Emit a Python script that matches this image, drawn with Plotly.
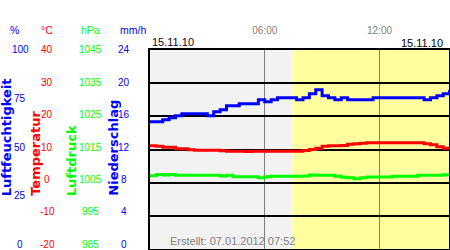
import pandas as pd
import plotly.graph_objects as go

# ---------------- data ----------------
date_str = "15.11.10"
created = "Erstellt: 07.01.2012 07:52"
t_start = "2010-11-15 00:00"
t_end = "2010-11-15 15:38"
daylight_start = "2010-11-15 07:27"
times = pd.date_range("2010-11-15 00:00", periods=48, freq="20min")

humidity = [64, 64, 65, 66, 67, 68, 68, 68, 68, 67, 69, 70,
            72, 72, 73, 73, 73, 75, 74, 75, 76, 76, 76, 75,
            76, 78, 80, 77, 76, 75, 76, 75, 75, 75, 75, 76,
            76, 76, 76, 76, 76, 76, 76, 75, 76, 77, 78, 80]
temperature = [11.1, 11.0, 10.7, 10.7, 10.2, 10.2, 9.9, 9.8, 9.8, 9.8, 9.8, 9.6,
               9.5, 9.5, 9.5, 9.4, 9.5, 9.5, 9.5, 9.5, 9.5, 9.5, 9.5, 9.5,
               9.7, 10.0, 10.4, 11.0, 11.1, 11.1, 11.2, 11.6, 11.7, 11.9, 12.0, 12.0,
               12.0, 12.0, 12.0, 12.0, 12.0, 12.0, 12.0, 11.7, 11.4, 10.8, 10.4, 10.0]
pressure = [1007.1, 1007.5, 1007.3, 1007.5, 1007.2, 1007.2, 1007.2, 1007.2, 1007.2, 1007.2, 1007.2, 1007.0,
            1007.2, 1006.8, 1006.8, 1006.8, 1006.8, 1006.5, 1006.8, 1006.9, 1006.9, 1006.9, 1006.9, 1006.9,
            1007.0, 1007.3, 1007.2, 1007.2, 1007.2, 1006.9, 1006.6, 1006.5, 1006.2, 1006.5, 1006.7, 1006.7,
            1006.7, 1006.7, 1006.9, 1006.9, 1006.9, 1006.9, 1007.2, 1007.2, 1007.2, 1007.2, 1007.4, 1007.6]

hum_ticks = [0, 25, 50, 75, 100]
temp_ticks = [-20, -10, 0, 10, 20, 30, 40]
pres_ticks = [985, 995, 1005, 1015, 1025, 1035, 1045]
rain_ticks = [0, 4, 8, 12, 16, 20, 24]
x_tickvals = ["2010-11-15 06:00", "2010-11-15 12:00"]
x_ticktext = ["06:00", "12:00"]

# ---------------- style ----------------
BLUE = "#0000ff"
RED = "#ff0000"
GREEN = "#00ff00"
GRAY_TXT = "#808080"
W, H = 450, 250
X0, X1 = 150 / W, 449 / W
Y0, Y1 = 1 / H, 200 / H
LBL = dict(family="Liberation Sans, Arial, sans-serif", size=10)

fig = go.Figure()
fig.add_trace(go.Scatter(x=times, y=pressure, yaxis="y3", mode="lines",
                         line=dict(color=GREEN, width=3, shape="hv"), hoverinfo="skip"))
fig.add_trace(go.Scatter(x=times, y=temperature, yaxis="y", mode="lines",
                         line=dict(color=RED, width=3, shape="hv"), hoverinfo="skip"))
fig.add_trace(go.Scatter(x=times, y=humidity, yaxis="y2", mode="lines",
                         line=dict(color=BLUE, width=3, shape="hv"), hoverinfo="skip"))

shapes = [
    dict(type="rect", xref="x", yref="y domain", x0=t_start, x1=daylight_start, y0=0, y1=1,
         fillcolor="#f2f2f2", line=dict(width=0), layer="below"),
    dict(type="rect", xref="x", yref="y domain", x0=daylight_start, x1=t_end, y0=0, y1=1,
         fillcolor="#ffffa0", line=dict(width=0), layer="below"),
]

annotations = []


def add_labels(vals, yref, xc, color, vmin, vmax):
    for v in vals:
        frac = (vmax - v) / (vmax - vmin)
        annotations.append(dict(x=xc / W, xref="paper", y=v, yref=yref, text=str(v),
                                showarrow=False, xanchor="center", yanchor="middle",
                                yshift=5 * frac, font=dict(LBL, color=color)))


add_labels(hum_ticks, "y2", 20, BLUE, 0, 100)
add_labels(temp_ticks, "y", 47, RED, -20, 40)
add_labels(pres_ticks, "y3", 90, GREEN, 985, 1045)
add_labels(rain_ticks, "y4", 124, BLUE, 0, 24)

units = [("%", 14, BLUE), ("°C", 46.5, RED), ("hPa", 90, GREEN), ("mm/h", 133, BLUE)]
for txt, xc, col in units:
    annotations.append(dict(x=xc / W, xref="paper", y=(H - 30) / H, yref="paper", text=txt,
                            showarrow=False, xanchor="center", yanchor="middle",
                            font=dict(family="Liberation Sans, Arial, sans-serif", size=10.5, color=col)))

titles = [("Luftfeuchtigkeit", 6.3, BLUE), ("Temperatur", 35.3, RED),
          ("Luftdruck", 71.7, GREEN), ("Niederschlag", 112.7, BLUE)]
for txt, xc, col in titles:
    annotations.append(dict(x=xc / W, xref="paper", y=(H - 198) / H, yref="paper", text=txt,
                            textangle=-90, showarrow=False, xanchor="center", yanchor="bottom",
                            font=dict(family="DejaVu Sans", size=13, weight="bold", color=col)))

annotations.append(dict(x=150 / W, xref="paper", y=(H - 42) / H, yref="paper", text=date_str,
                        showarrow=False, xanchor="left", yanchor="middle",
                        font=dict(family="Liberation Sans, Arial, sans-serif", size=11, color="#1a001a")))
annotations.append(dict(x=445 / W, xref="paper", y=(H - 43) / H, yref="paper", text=date_str,
                        showarrow=False, xanchor="right", yanchor="middle",
                        font=dict(family="Liberation Sans, Arial, sans-serif", size=11, color="#000000")))
annotations.append(dict(x=297 / W, xref="paper", y=(H - 241) / H, yref="paper", text=created,
                        showarrow=False, xanchor="right", yanchor="middle",
                        font=dict(family="Liberation Sans, Arial, sans-serif", size=11, color=GRAY_TXT)))

fig.update_layout(
    width=W, height=H, margin=dict(l=0, r=0, t=0, b=0),
    paper_bgcolor="white", plot_bgcolor="white", showlegend=False,
    xaxis=dict(type="date", domain=[X0, X1], range=[t_start, t_end], side="top",
               tickvals=x_tickvals, ticktext=x_ticktext, ticks="",
               tickfont=dict(LBL, color=GRAY_TXT), ticklabelstandoff=10,
               showgrid=True, gridcolor="#808080", gridwidth=1,
               showline=True, mirror=True, linecolor="black", linewidth=2, zeroline=False),
    yaxis=dict(domain=[Y0, Y1], range=[-20, 40], tickvals=temp_ticks, showticklabels=False,
               ticks="", showgrid=True, gridcolor="black", gridwidth=2, zeroline=False,
               showline=True, mirror=True, linecolor="black", linewidth=2),
    yaxis2=dict(overlaying="y", range=[0, 100], visible=False),
    yaxis3=dict(overlaying="y", range=[985, 1045], visible=False),
    yaxis4=dict(overlaying="y", range=[0, 24], visible=False),
    shapes=shapes, annotations=annotations,
)

fig.write_html("out.html")
